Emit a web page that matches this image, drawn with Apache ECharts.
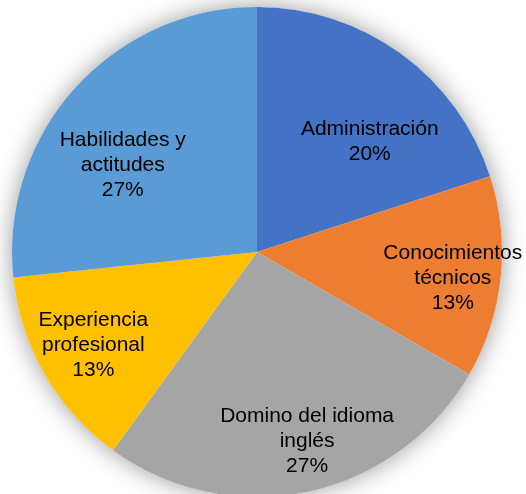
<!DOCTYPE html>
<html>
<head>
<meta charset="utf-8">
<script src="https://cdn.jsdelivr.net/npm/echarts@6/dist/echarts.min.js"></script>
<style>
  html, body { margin: 0; padding: 0; background: #ffffff; }
  #chart { width: 526px; height: 494px; }
</style>
</head>
<body>
<div id="chart"></div>
<script>
// Categories (with line breaks as they are set in the labels)
const categories = [
  'Administración',
  'Conocimientos\ntécnicos',
  'Domino del idioma\ninglés',
  'Experiencia\nprofesional',
  'Habilidades y\nactitudes'
];
// Counts per category
const counts = [3, 2, 4, 2, 4];
// Slice colours
const sliceColors = ['#4472C4', '#ED7D31', '#A5A5A5', '#FFC000', '#5B9BD5'];
// Label nudges from the default inside position [dx, dy]
const labelNudge = [[39, -9], [71, 13], [24, 66], [-55, 30], [-41, -3]];

const chart = echarts.init(document.getElementById('chart'), null, { renderer: 'canvas' });

const pieCenter = [257, 252];
const pieRadius = 245;

chart.setOption({
  animation: false,
  backgroundColor: '#ffffff',
  series: [
    {
      // soft drop shadow under the whole disc
      type: 'pie',
      silent: true,
      z: 1,
      center: pieCenter,
      radius: pieRadius,
      label: { show: false },
      labelLine: { show: false },
      itemStyle: {
        color: '#ffffff',
        shadowBlur: 24,
        shadowColor: 'rgba(0,0,0,0.4)'
      },
      data: [{ value: 1, name: '' }]
    },
    {
      type: 'pie',
      z: 2,
      center: pieCenter,
      radius: pieRadius,
      startAngle: 90,
      clockwise: true,
      percentPrecision: 0,
      itemStyle: { borderWidth: 0 },
      label: {
        show: true,
        position: 'inside',
        formatter: '{b}\n{d}%',
        color: '#000000',
        fontFamily: '"Liberation Sans", Arial, sans-serif',
        fontSize: 21,
        lineHeight: 25,
        align: 'center'
      },
      labelLine: { show: false },
      labelLayout: function (params) {
        const n = labelNudge[params.dataIndex] || [0, 0];
        return { dx: n[0], dy: n[1] };
      },
      data: categories.map((name, i) => ({
        name: name,
        value: counts[i],
        itemStyle: { color: sliceColors[i] }
      }))
    }
  ]
});
</script>
</body>
</html>
